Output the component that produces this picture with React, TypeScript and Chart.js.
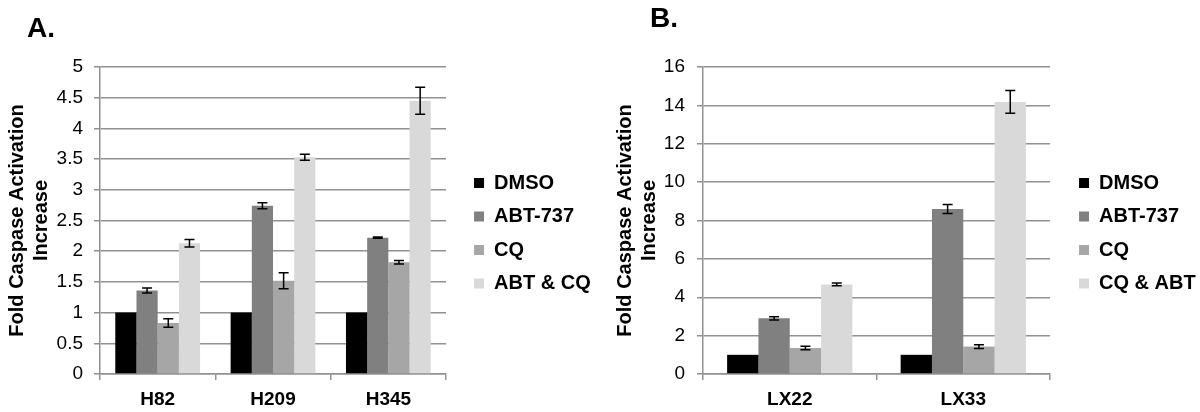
import React, { useEffect, useRef } from "react";
import { Chart, registerables } from "chart.js";

Chart.register(...registerables);

// ---------- data ----------
const seriesNamesA = ["DMSO", "ABT-737", "CQ", "ABT & CQ"];
const seriesNamesB = ["DMSO", "ABT-737", "CQ", "CQ & ABT"];

const categoriesA = ["H82", "H209", "H345"];
const dmsoA = [1, 1, 1];
const abtA = [1.36, 2.74, 2.22];
const cqA = [0.83, 1.52, 1.82];
const comboA = [2.13, 3.53, 4.45];
const dmsoErrA = [0, 0, 0];
const abtErrA = [0.04, 0.05, 0.01];
const cqErrA = [0.07, 0.13, 0.03];
const comboErrA = [0.06, 0.05, 0.22];

const categoriesB = ["LX22", "LX33"];
const dmsoB = [1, 1];
const abtB = [2.9, 8.6];
const cqB = [1.35, 1.43];
const comboB = [4.67, 14.18];
const dmsoErrB = [0, 0];
const abtErrB = [0.09, 0.24];
const cqErrB = [0.09, 0.1];
const comboErrB = [0.07, 0.59];

const yTicksA = { min: 0, max: 5, step: 0.5 };
const yTicksB = { min: 0, max: 16, step: 2 };

const yTitle = ["Fold Caspase Activation", "Increase"];

// ---------- style ----------
const FONT = "'Liberation Sans', Arial, Helvetica, sans-serif";
const GRID = "#919191";
const seriesColors = ["#000000", "#808080", "#a6a6a6", "#d9d9d9"];
const CANVAS_W = 620;

const errorBarPlugin = {
  id: "errorBars",
  afterDatasetsDraw(chart: any) {
    const ctx = chart.ctx;
    const yScale = chart.scales.y;
    chart.data.datasets.forEach((ds: any, i: number) => {
      const errs = ds.errors as number[] | undefined;
      if (!errs) return;
      const meta = chart.getDatasetMeta(i);
      meta.data.forEach((bar: any, j: number) => {
        const e = errs[j];
        if (!e) return;
        const v = ds.data[j] as number;
        const top = yScale.getPixelForValue(v + e);
        const bot = yScale.getPixelForValue(v - e);
        const cap = 5;
        ctx.save();
        ctx.strokeStyle = "#000";
        ctx.lineWidth = 1.5;
        ctx.beginPath();
        ctx.moveTo(bar.x, top);
        ctx.lineTo(bar.x, bot);
        ctx.moveTo(bar.x - cap, top);
        ctx.lineTo(bar.x + cap, top);
        ctx.moveTo(bar.x - cap, bot);
        ctx.lineTo(bar.x + cap, bot);
        ctx.stroke();
        ctx.restore();
      });
    });
  },
};

const panelLetterPlugin = {
  id: "panelLetter",
  afterDraw(chart: any, _args: any, opts: any) {
    if (!opts || !opts.text) return;
    const ctx = chart.ctx;
    ctx.save();
    ctx.font = `bold 28px ${FONT}`;
    ctx.fillStyle = "#000";
    ctx.textBaseline = "alphabetic";
    ctx.textAlign = "left";
    ctx.fillText(opts.text, opts.x, opts.y);
    ctx.restore();
  },
};

type PanelProps = {
  letter: string;
  letterX: number;
  letterY: number;
  categories: string[];
  names: string[];
  values: number[][];
  errors: number[][];
  ticks: { min: number; max: number; step: number };
  yWidth: number;
  titlePad: number;
  tickPad: number;
  gapWidth: number;
  padRight: number;
  catPct: number;
};

function Panel(p: PanelProps) {
  const ref = useRef<HTMLCanvasElement | null>(null);
  useEffect(() => {
    if (!ref.current) return;
    const chart = new Chart(ref.current, {
      type: "bar",
      data: {
        labels: p.categories,
        datasets: p.names.map((name, i) => ({
          label: name,
          data: p.values[i],
          errors: p.errors[i],
          backgroundColor: seriesColors[i],
          borderColor: seriesColors[i],
          borderWidth: 0,
          categoryPercentage: p.catPct,
          barPercentage: 1,
          yAxisID: "y",
        })) as any,
      },
      options: {
        responsive: false,
        animation: false,
        events: [],
        layout: { padding: { top: 67, left: 0, right: p.padRight, bottom: 0 } },
        scales: {
          x: {
            grid: { drawOnChartArea: false, tickLength: 6, color: GRID, lineWidth: 1.5 },
            border: { color: GRID, width: 1.5 },
            ticks: { color: "#000", padding: 8, font: { family: FONT, size: 19, weight: "bold" } },
            afterFit: (s: any) => {
              s.height = 38;
            },
          },
          y: {
            min: p.ticks.min,
            max: p.ticks.max,
            ticks: {
              stepSize: p.ticks.step,
              color: "#000",
              padding: p.tickPad,
              font: { family: FONT, size: 19 },
              callback: (v: any) => String(Number(v)),
            },
            grid: { color: GRID, lineWidth: 1.5, tickLength: 6 },
            border: { color: GRID, width: 1.5 },
            title: {
              display: true,
              text: yTitle,
              color: "#000",
              font: { family: FONT, size: 20, weight: "bold", lineHeight: 1.22 },
              padding: { top: p.titlePad, bottom: 0 },
            },
            afterFit: (s: any) => {
              s.width = p.yWidth;
            },
          },
          // invisible spacer between plot and legend
          gap: {
            type: "linear",
            axis: "y",
            position: "right",
            display: false,
            afterFit: (s: any) => {
              s.width = p.gapWidth;
            },
          },
        } as any,
        plugins: {
          legend: {
            position: "right",
            fullSize: false,
            title: { display: true, text: "", font: { size: 10 }, padding: { top: 6.75, bottom: 6.75 } },
            labels: {
              boxWidth: 10,
              boxHeight: 10,
              padding: 13.5,
              color: "#000",
              font: { family: FONT, size: 20, weight: "bold" },
            },
          },
          tooltip: { enabled: false },
          panelLetter: { text: p.letter, x: p.letterX, y: p.letterY },
        } as any,
      },
      plugins: [errorBarPlugin, panelLetterPlugin],
    });
    return () => chart.destroy();
  }, []);
  return (
    <canvas
      ref={ref}
      width={CANVAS_W}
      height={412}
      style={{ display: "block", width: CANVAS_W, height: 412 }}
    />
  );
}

export default function App() {
  return (
    <div
      style={{
        position: "fixed",
        left: 0,
        top: 0,
        width: 1200,
        height: 412,
        overflow: "hidden",
        background: "#fff",
      }}
    >
      <div style={{ position: "absolute", left: 0, top: 0 }}>
        <Panel
          letter="A."
          letterX={27}
          letterY={37}
          categories={categoriesA}
          names={seriesNamesA}
          values={[dmsoA, abtA, cqA, comboA]}
          errors={[dmsoErrA, abtErrA, cqErrA, comboErrA]}
          ticks={yTicksA}
          yWidth={100}
          titlePad={5}
          tickPad={11}
          gapWidth={14.5}
          padRight={19.3}
          catPct={0.735}
        />
      </div>
      <div style={{ position: "absolute", left: 600, top: 0 }}>
        <Panel
          letter="B."
          letterX={50}
          letterY={27}
          categories={categoriesB}
          names={seriesNamesB}
          values={[dmsoB, abtB, cqB, comboB]}
          errors={[dmsoErrB, abtErrB, cqErrB, comboErrB]}
          ticks={yTicksB}
          yWidth={103}
          titlePad={13}
          tickPad={12}
          gapWidth={15.5}
          padRight={14.3}
          catPct={0.722}
        />
      </div>
    </div>
  );
}
